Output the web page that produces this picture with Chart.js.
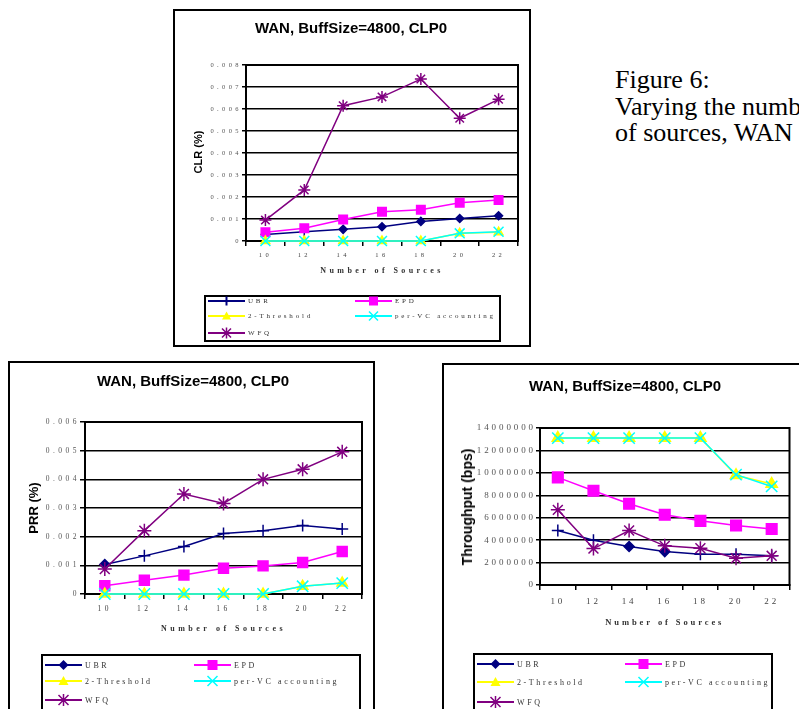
<!DOCTYPE html>
<html>
<head>
<meta charset="utf-8">
<script src="https://cdn.jsdelivr.net/npm/chart.js@4.4.0/dist/chart.umd.min.js"></script>
<style>
  html, body { margin: 0; padding: 0; background: #fff; }
  body { width: 799px; height: 709px; overflow: hidden; position: relative; font-family: 'Liberation Sans', Arial, sans-serif; }
  .frame { position: absolute; border: 2px solid #000; box-sizing: border-box; background: #fff; }
  canvas { position: absolute; }
  .title { position: absolute; font-weight: bold; font-size: 15px; color: #000; white-space: nowrap; transform: translate(-50%, -50%); }
  .ytitle { position: absolute; font-weight: bold; color: #000; white-space: nowrap; transform: translate(-50%, -50%) rotate(-90deg); }
  .legend { position: absolute; border: 2px solid #000; box-sizing: border-box; background: #fff; }
  .item { position: absolute; height: 14px; display: flex; align-items: center; white-space: nowrap; }
  .item svg { display: block; }
  .item span { font-family: 'Liberation Serif', serif; color: #333; margin-left: 3px; }
  .caption { position: absolute; left: 615px; top: 67px; font-family: 'Liberation Serif', 'Times New Roman', serif; font-size: 26px; line-height: 26.5px; white-space: nowrap; color: #000; }
</style>
</head>
<body>

<div class="caption">Figure 6:<br>Varying the number<br>of sources, WAN</div>

<!-- top chart: CLR -->
<div class="frame" style="left:173px; top:9px; width:358px; height:338px;"></div>
<canvas id="clrChart" width="358" height="280" style="left:173px; top:9px;"></canvas>
<div class="title" style="left:351px; top:27px;">WAN, BuffSize=4800, CLP0</div>
<div class="ytitle" style="left:198px; top:152px; font-size:11px;">CLR (%)</div>
<div class="legend" style="left:204px; top:295px; width:297px; height:47px;"></div>

<!-- bottom left: PRR -->
<div class="frame" style="left:8px; top:361px; width:367px; height:360px;"></div>
<canvas id="prrChart" width="366" height="290" style="left:8px; top:361px;"></canvas>
<div class="title" style="left:193px; top:380px;">WAN, BuffSize=4800, CLP0</div>
<div class="ytitle" style="left:33px; top:508px; font-size:13px;">PRR (%)</div>
<div class="legend" style="left:41px; top:654px; width:320px; height:70px;"></div>

<!-- bottom right: Throughput -->
<div class="frame" style="left:442px; top:363px; width:370px; height:360px;"></div>
<canvas id="thrChart" width="357" height="290" style="left:442px; top:363px;"></canvas>
<div class="title" style="left:625px; top:385px;">WAN, BuffSize=4800, CLP0</div>
<div class="ytitle" style="left:467px; top:507px; font-size:14px;">Throughput (bps)</div>
<div class="legend" style="left:473px; top:653px; width:300px; height:70px;"></div>

<script>
// categories
const sources = ['10', '12', '14', '16', '18', '20', '22'];
const seriesNames = ['UBR', 'EPD', '2-Threshold', 'per-VC accounting', 'WFQ'];
const seriesColors = ['#000080', '#FF00FF', '#FFFF00', '#00FFFF', '#800080'];

// CLR (%)
const clrUBR = [0.0003, 0.00042, 0.00053, 0.00065, 0.00089, 0.00102, 0.00115];
const clrEPD = [0.0004, 0.00058, 0.00098, 0.00133, 0.00142, 0.00174, 0.00186];
const clr2T  = [0, 0, 0, 0, 0, 0.00035, 0.0004];
const clrVC  = [0, 0, 0, 0, 0, 0.00035, 0.00042];
const clrWFQ = [0.00095, 0.00232, 0.00615, 0.00655, 0.00736, 0.00558, 0.00644];

// PRR (%)
const prrUBR = [0.00103, 0.00133, 0.00166, 0.00211, 0.00221, 0.00239, 0.00227];
const prrEPD = [0.00029, 0.00048, 0.00066, 0.0009, 0.00098, 0.0011, 0.00148];
const prr2T  = [0, 0, 0, 0, 0, 0.00027, 0.00038];
const prrVC  = [0, 0, 0, 0, 0, 0.00027, 0.00038];
const prrWFQ = [0.00087, 0.00221, 0.00349, 0.00316, 0.004, 0.00435, 0.00496];

// Throughput (bps)
const thrUBR = [4860000, 4000000, 3430000, 2980000, 2740000, 2740000, 2600000];
const thrEPD = [9600000, 8400000, 7240000, 6260000, 5720000, 5300000, 5000000];
const thr2T  = [13100000, 13100000, 13100000, 13100000, 13100000, 9780000, 9000000];
const thrVC  = [13100000, 13100000, 13100000, 13100000, 13100000, 9840000, 8790000];
const thrWFQ = [6700000, 3250000, 4860000, 3490000, 3280000, 2380000, 2600000];

// y axis ranges
const clrMax = 0.008, clrStep = 0.001;
const prrMax = 0.006, prrStep = 0.001;
const thrMax = 14000000, thrStep = 2000000;

Chart.defaults.font.family = "'Liberation Serif', 'Times New Roman', serif";

// wide letter spacing on all canvas text, like the old Excel export
const spacing = {
  id: 'spacing',
  beforeDraw(chart, args, opts) { chart.ctx.letterSpacing = opts.value; }
};

const plotFrame = {
  id: 'plotFrame',
  beforeDatasetsDraw(chart) {
    const { ctx, chartArea: a } = chart;
    ctx.save();
    ctx.strokeStyle = '#000';
    ctx.lineWidth = 2;
    ctx.strokeRect(a.left, a.top, a.right - a.left, a.bottom - a.top);
    ctx.restore();
  }
};

function lineChart(id, series, o) {
  const styles = [o.ubrStyles, 'rect', 'triangle', 'crossRot', 'star'];
  const radii = [o.ubrStyles.map(s => s === 'cross' ? o.r[0] + 1 : o.r[0]), o.r[1], o.r[2], o.r[3], o.r[4]];
  return new Chart(document.getElementById(id), {
    type: 'line',
    data: {
      labels: sources,
      datasets: series.map((d, i) => ({
        label: seriesNames[i],
        data: d,
        borderColor: seriesColors[i],
        backgroundColor: seriesColors[i],
        borderWidth: 1.5,
        pointStyle: styles[i],
        pointRadius: radii[i],
        pointBorderWidth: 1.5,
        order: 5 - i,
        clip: false,
        tension: 0
      }))
    },
    options: {
      responsive: false,
      animation: false,
      events: [],
      layout: { padding: o.pad },
      plugins: {
        legend: { display: false },
        tooltip: { enabled: false },
        spacing: { value: o.ls }
      },
      scales: {
        x: {
          offset: true,
          grid: { offset: true, drawOnChartArea: false, color: '#000', lineWidth: 1.5, tickLength: 5 },
          border: { color: '#000', width: 2 },
          ticks: { color: '#444', font: { size: o.tick }, padding: o.xPad, autoSkip: false, maxRotation: 0 },
          title: { display: true, text: 'Number of Sources', color: '#333', font: { size: o.tsize, weight: 'bold' }, padding: 0 },
          afterFit: s => { s.height = o.xH; }
        },
        y: {
          min: 0,
          max: o.max,
          ticks: { stepSize: o.step, color: '#555', font: { size: o.tick }, padding: 0, callback: o.fmt },
          grid: { color: '#000', lineWidth: 1.5, tickLength: o.ytl },
          border: { color: '#000', width: 2 },
          afterFit: s => { s.width = o.yW; }
        }
      }
    },
    plugins: [spacing, plotFrame]
  });
}

const fmtPct = v => v === 0 ? '0' : v.toFixed(3);
const fmtBps = v => String(Math.round(v));

lineChart('clrChart', [clrUBR, clrEPD, clr2T, clrVC, clrWFQ], {
  max: clrMax, step: clrStep, fmt: fmtPct,
  pad: { left: 13, top: 56, right: 13, bottom: 13 }, yW: 60, xH: 35,
  ls: '3.4px', tick: 6.5, tsize: 8, xPad: 5, ytl: 4,
  r: [4, 6, 5, 7, 6],
  ubrStyles: ['cross', 'cross', 'rectRot', 'rectRot', 'rectRot', 'rectRot', 'rectRot']
});

lineChart('prrChart', [prrUBR, prrEPD, prr2T, prrVC, prrWFQ], {
  max: prrMax, step: prrStep, fmt: fmtPct,
  pad: { left: 13, top: 61, right: 12, bottom: 17 }, yW: 64, xH: 40,
  ls: '3.5px', tick: 7.5, tsize: 8, xPad: 6, ytl: 5,
  r: [5, 7, 6, 8, 7],
  ubrStyles: ['rectRot', 'cross', 'cross', 'cross', 'cross', 'cross', 'cross']
});

lineChart('thrChart', [thrUBR, thrEPD, thr2T, thrVC, thrWFQ], {
  max: thrMax, step: thrStep, fmt: fmtBps,
  pad: { left: 10, top: 65, right: 7, bottom: 25 }, yW: 88, xH: 43,
  ls: '2.9px', tick: 9, tsize: 8.5, xPad: 6, ytl: 4,
  r: [5, 7.5, 6.5, 8, 7],
  ubrStyles: ['cross', 'cross', 'rectRot', 'rectRot', 'cross', 'cross', 'cross']
});

// legends (html, laid out in two columns like the original)
function marker(style, color, s) {
  const c = 18.5, m = 7;
  switch (style) {
    case 'rectRot': return `<polygon points="${c},${m - s} ${c + s},${m} ${c},${m + s} ${c - s},${m}" fill="${color}"/>`;
    case 'rect': return `<rect x="${c - s}" y="${m - s}" width="${2 * s}" height="${2 * s}" fill="${color}"/>`;
    case 'triangle': return `<polygon points="${c},${m - s} ${c + s},${m + s * 0.8} ${c - s},${m + s * 0.8}" fill="${color}"/>`;
    case 'cross': return `<line x1="${c}" y1="${m - s}" x2="${c}" y2="${m + s}" stroke="${color}" stroke-width="2"/>`;
    case 'crossRot': return `<path d="M${c - s} ${m - s}L${c + s} ${m + s}M${c - s} ${m + s}L${c + s} ${m - s}" stroke="${color}" stroke-width="1.5"/>`;
    case 'star': return `<path d="M${c - s} ${m - s}L${c + s} ${m + s}M${c - s} ${m + s}L${c + s} ${m - s}M${c} ${m - s - 1}L${c} ${m + s + 1}" stroke="${color}" stroke-width="1.5"/>`;
  }
  return '';
}

function legend(cols, rows, ubrStyle, size, font, ls) {
  const styles = [ubrStyle, 'rect', 'triangle', 'crossRot', 'star'];
  seriesNames.forEach((name, i) => {
    const el = document.createElement('div');
    el.className = 'item';
    el.style.left = cols[i % 2] + 'px';
    el.style.top = (rows[Math.floor(i / 2)] - 7) + 'px';
    el.innerHTML = `<svg width="37" height="14"><line x1="0" y1="7" x2="37" y2="7" stroke="${seriesColors[i]}" stroke-width="2"/>${marker(styles[i], seriesColors[i], size)}</svg>` +
      `<span style="font-size:${font}px; letter-spacing:${ls}px;">${name}</span>`;
    document.body.appendChild(el);
  });
}

legend([208, 355], [301, 316, 333], 'cross', 4.5, 7, 2.8);
legend([45, 194], [665, 681, 700], 'rectRot', 5, 8, 2.6);
legend([477, 625], [664, 682, 702], 'rectRot', 5, 8, 2.6);
</script>
</body>
</html>
